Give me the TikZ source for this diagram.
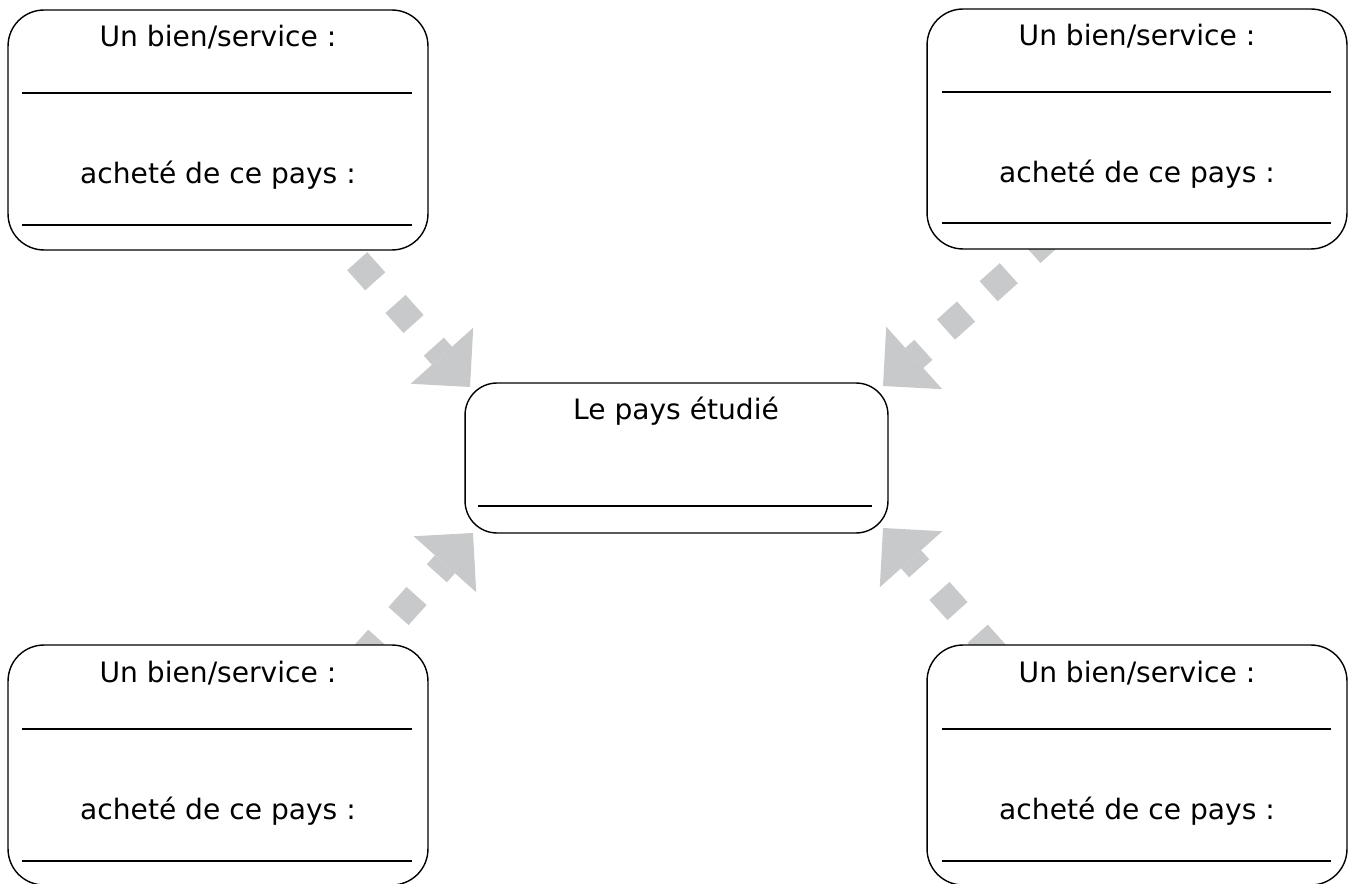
\documentclass[tikz,border=0pt]{standalone}
\usepackage{fontspec}
\setmainfont{DejaVu Sans}
\usepackage{xcolor}
\usetikzlibrary{arrows.meta}

\begin{document}
\begin{tikzpicture}[x=0.02cm,y=-0.02cm,line join=round,
  boite/.style={draw=black,fill=white,line width=.8pt,rounded corners=.72cm,
    minimum width=8.4cm,minimum height=4.8cm,inner sep=0pt},
  centre/.style={boite,rounded corners=.64cm,minimum width=8.46cm,minimum height=3cm},
  texte/.style={anchor=base,inner sep=0pt,font=\fontsize{16}{19}\selectfont},
  trait/.style={line width=1.1pt},
  flux/.style={draw=fleche,line width=.54cm,dash pattern=on .54cm off .608cm,
    -{Triangle[length=.84cm,width=1.68cm,line width=0pt]}}]
\definecolor{fleche}{HTML}{C8C9CA}
\useasboundingbox (0,0) rectangle (1351,884);
% fleches (sous les boites)
\coordinate (tl-dep) at (318.9,218.5);
\coordinate (tl-pointe) at (470,387);
\coordinate (tr-dep) at (1051.5,234.9);
\coordinate (tr-pointe) at (883,386);
\coordinate (bl-dep) at (321.9,701.5);
\coordinate (bl-pointe) at (473,533);
\coordinate (br-dep) at (1034.1,696.5);
\coordinate (br-pointe) at (883,528);
\draw[flux] (tl-dep) -- (tl-pointe);
\draw[flux] (tr-dep) -- (tr-pointe);
\draw[flux] (bl-dep) -- (bl-pointe);
\draw[flux] (br-dep) -- (br-pointe);
% haut gauche
\node[boite] (tl) at (218,130) {};
\node[texte] (tl-bien) at (218,47) {Un bien/service :};
\draw[trait] (22,93) -- (412,93);
\node[texte] (tl-pays) at (218,184) {acheté de ce pays :};
\draw[trait] (22,225) -- (412,225);
% haut droite
\node[boite] (tr) at (1137,129) {};
\node[texte] (tr-bien) at (1137,46) {Un bien/service :};
\draw[trait] (942,92) -- (1331,92);
\node[texte] (tr-pays) at (1137,183) {acheté de ce pays :};
\draw[trait] (942,223) -- (1331,223);
% bas gauche
\node[boite] (bl) at (218,765) {};
\node[texte] (bl-bien) at (218,682) {Un bien/service :};
\draw[trait] (22,729) -- (412,729);
\node[texte] (bl-pays) at (218,819) {acheté de ce pays :};
\draw[trait] (22,861) -- (412,861);
% bas droite
\node[boite] (br) at (1137,765) {};
\node[texte] (br-bien) at (1137,682) {Un bien/service :};
\draw[trait] (942,729) -- (1331,729);
\node[texte] (br-pays) at (1137,819) {acheté de ce pays :};
\draw[trait] (942,861) -- (1331,861);
% pays etudie
\node[centre] (mid) at (676.5,458) {};
\node[texte] (mid-titre) at (676,420) {Le pays étudié};
\draw[trait] (478,506) -- (872,506);
\end{tikzpicture}
\end{document}
